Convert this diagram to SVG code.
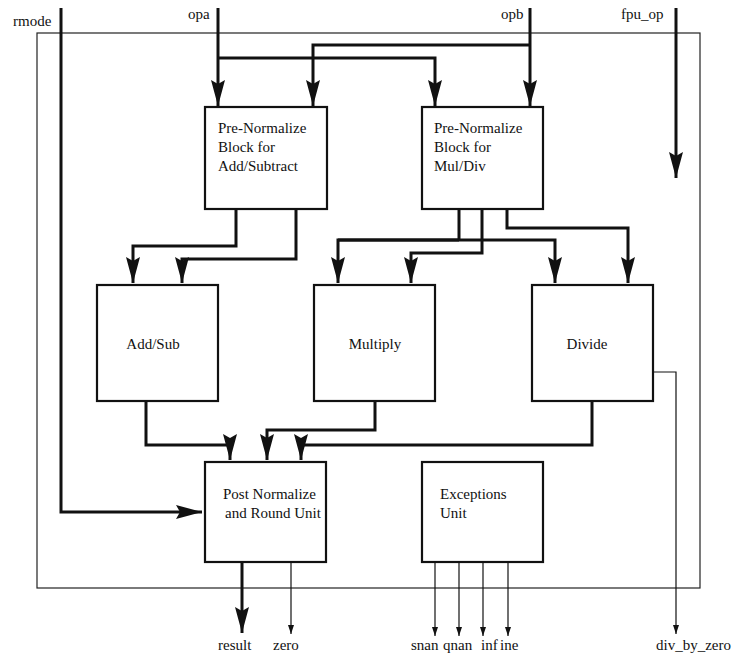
<svg xmlns="http://www.w3.org/2000/svg" width="732" height="655" viewBox="0 0 732 655">
<style>
text{font-family:"Liberation Serif","DejaVu Serif","Noto Serif",serif;font-size:15px;fill:#111}
.box{fill:#fff;stroke:#111;stroke-width:2.2}
.thick{fill:none;stroke:#111;stroke-width:3}
.thin{fill:none;stroke:#111;stroke-width:1.2}
.frame{fill:none;stroke:#222;stroke-width:1.2}
.c{text-anchor:middle}
</style>
<defs>
<marker id="big" markerUnits="userSpaceOnUse" markerWidth="26" markerHeight="14" viewBox="0 0 26 14" refX="26" refY="7" orient="auto">
<path d="M0,0 L26,7 L0,14 L4,7 Z" fill="#111"/>
</marker>
<marker id="small" markerUnits="userSpaceOnUse" markerWidth="9" markerHeight="6" viewBox="0 0 9 6" refX="9" refY="3" orient="auto">
<path d="M0,0 L9,3 L0,6 Z" fill="#111"/>
</marker>
</defs>
<rect class="frame" x="37" y="33" width="663" height="555"/>
<g id="connectors">
<path class="thick" d="M61,8 V512 H202" marker-end="url(#big)"/>
<path class="thick" d="M218,8 V106" marker-end="url(#big)"/>
<path class="thick" d="M218,58 H435 V106" marker-end="url(#big)"/>
<path class="thick" d="M530,8 V106" marker-end="url(#big)"/>
<path class="thick" d="M530,45 H313 V106" marker-end="url(#big)"/>
<path class="thick" d="M676,8 V178" marker-end="url(#big)"/>
<path class="thick" d="M236,209 V246 H133 V283" marker-end="url(#big)"/>
<path class="thick" d="M296,209 V259 H182 V283" marker-end="url(#big)"/>
<path class="thick" d="M459,209 V240"/>
<path class="thick" d="M338,240 H555 V283" marker-end="url(#big)"/>
<path class="thick" d="M459,240 H338 V283" marker-end="url(#big)"/>
<path class="thick" d="M482,209 V253 H411 V283" marker-end="url(#big)"/>
<path class="thick" d="M507,209 V228 H628 V283" marker-end="url(#big)"/>
<path class="thick" d="M146,401 V445 H230 V460" marker-end="url(#big)"/>
<path class="thick" d="M375,401 V430 H267 V460" marker-end="url(#big)"/>
<path class="thick" d="M592,401 V445 H301 V460" marker-end="url(#big)"/>
<path class="thick" d="M242,562 V633" marker-end="url(#big)"/>
<path class="thin" d="M291,562 V634" marker-end="url(#small)"/>
<path class="thin" d="M435,562 V636" marker-end="url(#small)"/>
<path class="thin" d="M459,562 V636" marker-end="url(#small)"/>
<path class="thin" d="M483,562 V636" marker-end="url(#small)"/>
<path class="thin" d="M508,562 V636" marker-end="url(#small)"/>
<path class="thin" d="M653,372 H676 V634" marker-end="url(#small)"/>
</g>
<g id="prenorm-addsub">
<rect class="box" x="205" y="107" width="122" height="102"/>
<text x="218" y="133">Pre-Normalize</text>
<text x="218" y="152">Block for</text>
<text x="218" y="171">Add/Subtract</text>
</g>
<g id="prenorm-muldiv">
<rect class="box" x="422" y="107" width="121" height="102"/>
<text x="434" y="133">Pre-Normalize</text>
<text x="434" y="152">Block for</text>
<text x="434" y="171">Mul/Div</text>
</g>
<g id="addsub">
<rect class="box" x="97" y="285" width="121" height="116"/>
<text class="c" x="153" y="349">Add/Sub</text>
</g>
<g id="multiply">
<rect class="box" x="314" y="285" width="121" height="116"/>
<text class="c" x="375" y="349">Multiply</text>
</g>
<g id="divide">
<rect class="box" x="532" y="285" width="121" height="116"/>
<text class="c" x="587" y="349">Divide</text>
</g>
<g id="postnorm">
<rect class="box" x="205" y="462" width="121" height="100"/>
<text x="223" y="499">Post Normalize</text>
<text x="225" y="518">and Round Unit</text>
</g>
<g id="exceptions">
<rect class="box" x="422" y="462" width="121" height="100"/>
<text x="440" y="499">Exceptions</text>
<text x="440" y="518">Unit</text>
</g>
<g id="labels">
<text x="13" y="26">rmode</text>
<text x="188" y="19">opa</text>
<text x="501" y="19">opb</text>
<text x="621" y="19">fpu_op</text>
<text x="218" y="650">result</text>
<text x="273" y="650">zero</text>
<text x="411" y="650">snan</text>
<text x="443" y="650">qnan</text>
<text x="481" y="650">inf</text>
<text x="500" y="650">ine</text>
<text x="656" y="650">div_by_zero</text>
</g>
</svg>
